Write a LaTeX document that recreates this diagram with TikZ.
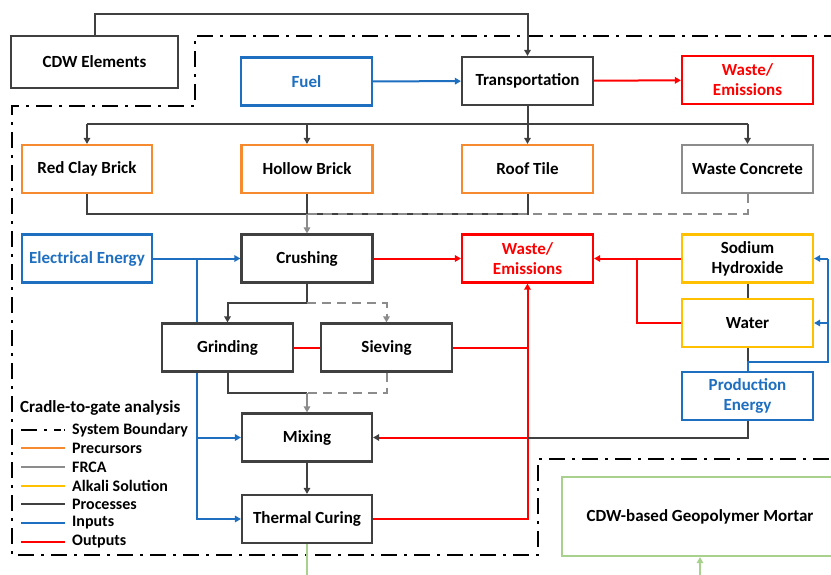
\documentclass[tikz,border=0pt]{standalone}
\usepackage{fontspec}
\setmainfont{Carlito}
\usetikzlibrary{arrows.meta,calc,backgrounds}
\definecolor{cOr}{HTML}{F58A2E}
\definecolor{cBl}{HTML}{1F6FC0}
\definecolor{cRd}{HTML}{FF0000}
\definecolor{cYe}{HTML}{FFC000}
\definecolor{cGr}{HTML}{8C8C8C}
\definecolor{cDk}{HTML}{404040}
\definecolor{cGn}{HTML}{A9D18E}
\tikzset{
  box/.style={draw, fill=white, line width=2.2pt, rectangle, minimum width=131pt, minimum height=48pt,
    inner sep=0pt, align=center, font=\fontsize{17}{20}\selectfont\bfseries, text=black},
  dkbox/.style={box, draw=cDk},
  orbox/.style={box, draw=cOr},
  blbox/.style={box, draw=cBl, text=cBl},
  rdbox/.style={box, draw=cRd, text=cRd},
  yebox/.style={box, draw=cYe},
  grbox/.style={box, draw=cGr},
  gnbox/.style={box, draw=cGn},
  ln/.style={line width=2pt, -{Triangle[length=6pt,width=6.5pt]}},
  pl/.style={line width=2pt},
  dk/.style={draw=cDk},
  bl/.style={draw=cBl},
  rd/.style={draw=cRd},
  gr/.style={draw=cGr},
  gn/.style={draw=cGn},
  dsh/.style={dash pattern=on 9pt off 6pt},
  sysb/.style={line width=2.4pt, draw=black, dash pattern=on 16pt off 7pt on 3pt off 7pt},
  legt/.style={anchor=west, font=\fontsize{16}{18}\selectfont\bfseries, inner sep=0pt},
}
\begin{document}
\begin{tikzpicture}[x=1pt,y=-1pt]
\useasboundingbox (0,0) rectangle (831,574);
\clip (0,0) rectangle (831,574);

% nodes
\node[dkbox, minimum width=167pt, minimum height=52pt] (cdw) at (94.5,62) {CDW Elements};
\node[blbox] (fuel) at (306.5,81.5) {Fuel};
\node[dkbox] (trans) at (527.5,81) {Transportation};
\node[rdbox] (w1) at (747.5,80) {Waste/\\Emissions};
\node[orbox, minimum width=130pt] (rcb) at (87,169) {Red Clay Brick};
\node[orbox] (hb) at (307,169) {Hollow Brick};
\node[orbox] (rt) at (527.5,169) {Roof Tile};
\node[grbox] (wc) at (747.5,169) {Waste Concrete};
\node[blbox, minimum width=130pt] (ee) at (87,258.5) {Electrical Energy};
\node[dkbox] (crush) at (307,258.5) {Crushing};
\node[rdbox] (w2) at (527.5,258.5) {Waste/\\Emissions};
\node[yebox] (naoh) at (747.5,258.5) {Sodium\\Hydroxide};
\node[yebox] (water) at (747.5,323) {Water};
\node[dkbox] (grind) at (227.5,347.5) {Grinding};
\node[dkbox] (siev) at (386.5,347.5) {Sieving};
\node[blbox] (prod) at (747.5,396) {Production\\Energy};
\node[dkbox, minimum width=130pt] (mix) at (307,437.5) {Mixing};
\node[dkbox, minimum width=130pt] (therm) at (307,519) {Thermal Curing};
\node[gnbox, minimum width=276pt, minimum height=79pt] (mortar) at (700,516.5) {CDW-based Geopolymer Mortar};

% coordinates
\coordinate (top) at (527.5,14);
\coordinate (dist) at (527.5,124);
\coordinate (coll) at (307,214);
\coordinate (eb) at (197,258.5);
\coordinate (nb) at (637,258.5);
\coordinate (pb) at (747.5,362);
\coordinate (pr) at (828,362);
\coordinate (cs) at (307,303);
\coordinate (gs) at (307,393);
\coordinate (mx) at (527.5,437.5);
\coordinate (gb) at (307,580);
\coordinate (mb) at (700,580);
\coordinate (sa) at (386.5,314);
\coordinate (rv) at (527.5,347.5);

\begin{scope}[on background layer]
\fill[white] (0,0) rectangle (831,574);
% system boundary
\draw[sysb] (840,36) -- (195,36) -- (195,106) -- (12,106) -- (12,555) -- (538,555) -- (538,459) -- (840,459);

% top
\draw[ln,dk] (cdw.north) |- (top) -- (trans.north);
\draw[ln,bl] (fuel) -- (trans);
\draw[ln,rd] (trans) -- (w1);
\draw[ln,dk] (trans) -- (rt);
\draw[pl,dk] (rcb.north |- dist) -- (wc.north |- dist);
\draw[ln,dk] (rcb.north |- dist) -- (rcb.north);
\draw[ln,dk] (hb.north |- dist) -- (hb.north);
\draw[ln,dk] (wc.north |- dist) -- (wc.north);

% collection
\draw[pl,dk] (rcb.south) |- (rt.south |- coll) -- (rt.south);
\draw[pl,dk] (hb.south) -- (coll);
\draw[pl,gr,dsh] (wc.south) |- (coll);
\draw[ln,gr] (coll) -- (crush.north);

% electrical
\draw[ln,bl] (ee) -- (crush);
\draw[ln,bl] (eb) |- (mix.west);
\draw[ln,bl] (eb) |- (therm.west);

% outputs
\draw[ln,rd] (crush) -- (w2);
\draw[ln,rd] (naoh) -- (w2);
\draw[pl,rd] (water.west) -| (nb);
\draw[pl,rd] (grind) -- (siev);
\draw[pl,rd] (siev.east) -- (rv);
\draw[ln,rd] (therm.east) -| (w2.south);

% alkali
\draw[pl,dk] (naoh) -- (water);
\draw[pl,dk] (water.south) -- (pb);
\draw[pl,bl] (prod.north) -- (pb) -- (pr) -- (pr |- naoh.east);
\draw[ln,bl] (pr |- naoh.east) -- (naoh.east);
\draw[ln,bl] (pr |- water.east) -- (water.east);
\draw[pl,dk] (prod.south) |- (mx);
\draw[pl,rd,-{Triangle[length=6pt,width=6.5pt,fill=cDk,color=cDk]}] (mx) -- (mix.east);

% crushing to grinding/sieving
\draw[ln,dk] (crush.south) -- (cs) -| (grind.north);
\draw[pl,gr,dsh] (cs) -| (sa);
\draw[ln,gr] (sa) -- (siev.north);
\draw[pl,dk] (grind.south) |- (gs);
\draw[pl,gr,dsh] (siev.south) |- (gs);
\draw[ln,gr] (gs) -- (mix.north);
\draw[ln,dk] (mix) -- (therm);

% green
\draw[pl,gn] (therm.south) -- (gb);
\draw[ln,gn] (mb) -- (mortar.south);
\end{scope}

% legend
\node[legt, font=\fontsize{17}{19}\selectfont\bfseries] (lt) at (20,408) {Cradle-to-gate analysis};
\foreach \y/\t/\n in {430/System Boundary/l1, 448/Precursors/l2, 467/FRCA/l3, 486/Alkali Solution/l4, 504/Processes/l5, 523/Inputs/l6, 542/Outputs/l7}{
  \coordinate (\n a) at (21,\y);
  \coordinate (\n b) at (65,\y);
  \node[legt] (\n) at (72,\y) {\t};
}
\draw[line width=2.2pt, black, dash pattern=on 16pt off 7pt on 3pt off 7pt on 7pt off 3pt] (l1a) -- (l1b);
\draw[line width=2.2pt, cOr] (l2a) -- (l2b);
\draw[line width=2.2pt, cGr] (l3a) -- (l3b);
\draw[line width=2.2pt, cYe] (l4a) -- (l4b);
\draw[line width=2.2pt, cDk] (l5a) -- (l5b);
\draw[line width=2.2pt, cBl] (l6a) -- (l6b);
\draw[line width=2.2pt, cRd] (l7a) -- (l7b);
\end{tikzpicture}
\end{document}
